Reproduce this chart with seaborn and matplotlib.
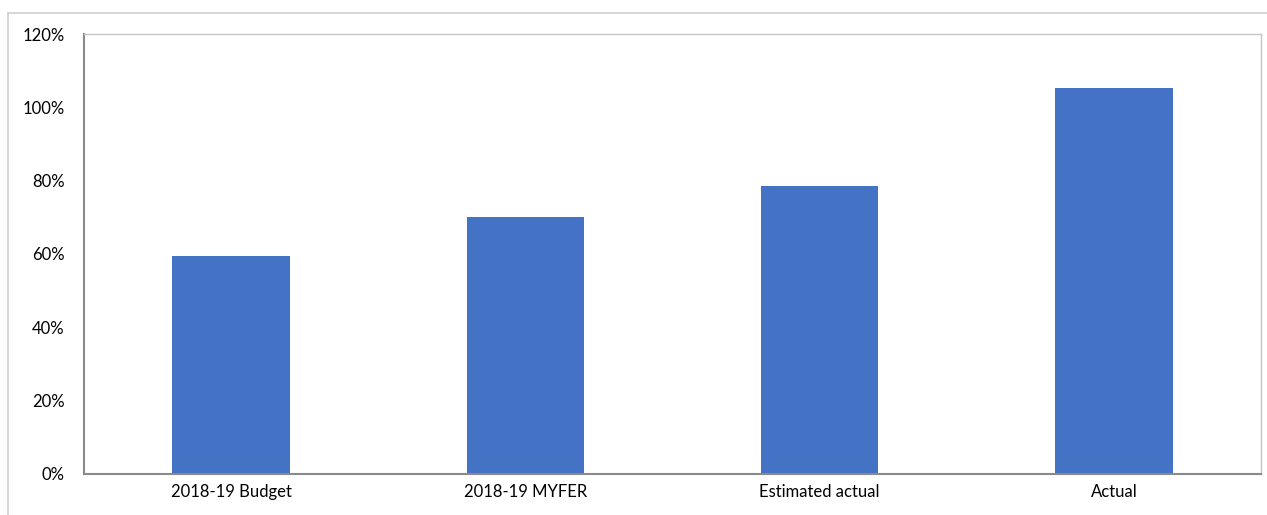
import matplotlib
matplotlib.use("Agg")
import matplotlib.pyplot as plt
from matplotlib.lines import Line2D
from matplotlib.ticker import FuncFormatter
import seaborn as sns
import pandas as pd

categories = ["2018-19 Budget", "2018-19 MYFER", "Estimated actual", "Actual"]
values = [0.595, 0.70, 0.785, 1.053]
y_ticks = [0.0, 0.2, 0.4, 0.6, 0.8, 1.0, 1.2]

sns.set_theme(style="white")
plt.rcParams["font.family"] = ["Lato", "DejaVu Sans"]

df = pd.DataFrame({"category": categories, "value": values})

fig = plt.figure(figsize=(12.67, 5.15), dpi=100)
ax = fig.add_axes([84 / 1267, 41 / 515, (1261 - 84) / 1267, (474 - 34) / 515])

sns.barplot(data=df, x="category", y="value", color="#4472C4", width=0.4,
            saturation=1, ax=ax, edgecolor="none")

ax.set_ylim(0, 1.2)
ax.set_yticks(y_ticks)
ax.yaxis.set_major_formatter(FuncFormatter(lambda v, _: f"{v * 100:.0f}%"))
ax.set_xlabel("")
ax.set_ylabel("")
ax.tick_params(axis="both", length=0, labelsize=12, colors="#000000")
ax.tick_params(axis="y", pad=14)
ax.tick_params(axis="x", pad=7)

for side in ["left", "bottom"]:
    ax.spines[side].set_color("#8a8a8a")
    ax.spines[side].set_linewidth(1.5)
for side in ["top", "right"]:
    ax.spines[side].set_color("#c4c4c4")
    ax.spines[side].set_linewidth(1.0)

# outer chart-area border (top and left edges)
fig.add_artist(Line2D([8 / 1267, 1.0], [1 - 13 / 515, 1 - 13 / 515],
                      transform=fig.transFigure, color="#d0d0d0", lw=1.2))
fig.add_artist(Line2D([8 / 1267, 8 / 1267], [0.0, 1 - 13 / 515],
                      transform=fig.transFigure, color="#d0d0d0", lw=1.2))

fig.savefig("out.png", dpi=100)
